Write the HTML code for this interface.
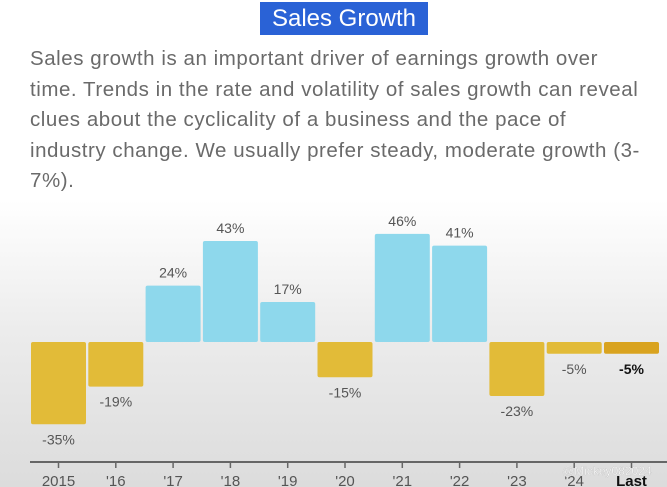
<!DOCTYPE html>
<html><head><meta charset="utf-8"><style>
html,body{margin:0;padding:0}
body{width:667px;height:487px;overflow:hidden;position:relative;font-family:"Liberation Sans",sans-serif;
background:linear-gradient(180deg,#fff 0px,#fff 200px,#ececec 330px,#dcdcdc 487px)}
#title{position:absolute;left:260px;top:2px;width:168px;height:33px;background:#2a62d6;color:#fff;font-size:24px;line-height:33px;text-align:center}
#desc{position:absolute;left:30px;top:44px;width:640px;font-size:20.5px;line-height:30.5px;color:#6a6a6a;white-space:nowrap;letter-spacing:0.55px}
svg{position:absolute;left:0;top:0}
</style></head><body>
<div id="title">Sales Growth</div>
<div id="desc">Sales growth is an important driver of earnings growth over<br>time. Trends in the rate and volatility of sales growth can reveal<br>clues about the cyclicality of a business and the pace of<br>industry change. We usually prefer steady, moderate growth (3-<br>7%).</div>
<svg id="chart" width="667" height="487"></svg>
<script>
const categories=["2015","'16","'17","'18","'19","'20","'21","'22","'23","'24","Last"];
const values=[-35,-19,24,43,17,-15,46,41,-23,-5,-5];
const svg=document.getElementById('chart');
const NS='http://www.w3.org/2000/svg';
const zeroY=342, pxPer=2.35, x0=31, step=57.3, bw=55;
function yScale(v){return zeroY-v*pxPer;}
function xScale(i){return x0+i*step;}
function mk(t,a){const e=document.createElementNS(NS,t);for(const k in a)e.setAttribute(k,a[k]);svg.appendChild(e);return e;}
const axis=mk('line',{x1:30,x2:667,y1:462,y2:462,stroke:'#666','stroke-width':2});


values.forEach((v,i)=>{
  const x=xScale(i), last=i===values.length-1;
  const y=Math.min(yScale(v),zeroY), h=Math.abs(yScale(v)-zeroY);
  const fill=v>=0?'#8ed8ec':(last?'#d9a31f':'#e2bb38');
  const r=mk('rect',{x:x,y:y,width:bw,height:h,fill:fill,rx:2});
  
  
  const ly=v>=0?yScale(v)-8:yScale(v)+20;
  const t=mk('text',{x:x+bw/2,y:ly,'text-anchor':'middle','font-size':14,fill:last?'#111':'#555','font-weight':last?'bold':'normal'});
  t.textContent=v+'%';
  
  
  const cx=x+bw/2;
  const tk=mk('line',{x1:cx,x2:cx,y1:462,y2:468,stroke:'#666','stroke-width':1.5});
  
  
  const tl=mk('text',{x:cx,y:486,'text-anchor':'middle','font-size':15,fill:last?'#111':'#555','font-weight':last?'bold':'normal'});
  tl.textContent=categories[i];
  
  
});
const wm=mk('text',{x:562,y:475,'font-size':12,fill:'#fff',stroke:'#bbb','stroke-width':0.3});
wm.textContent='@Mickey082024';


</script>
</body></html>
